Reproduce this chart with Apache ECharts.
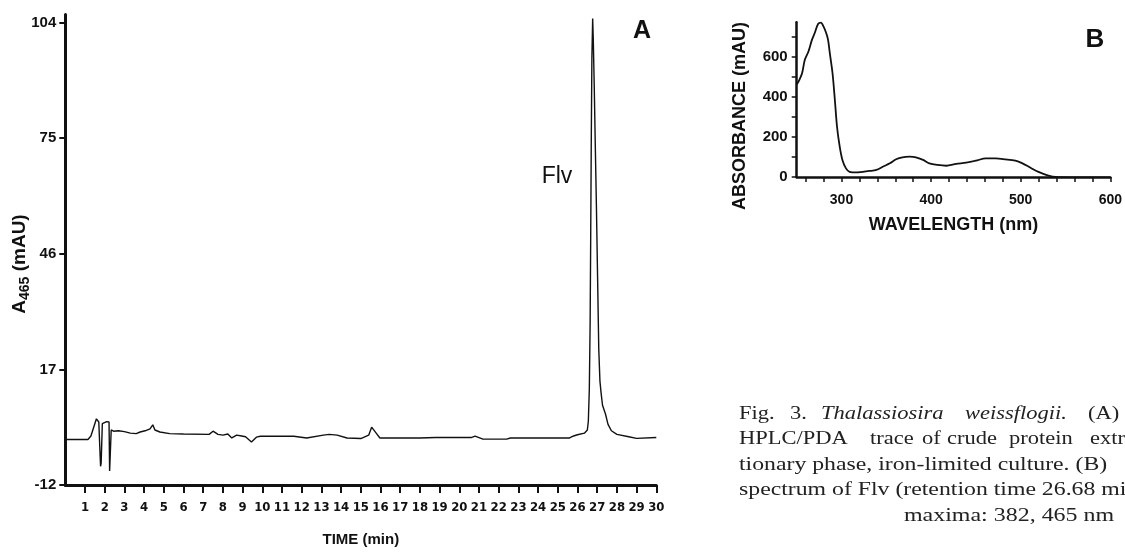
<!DOCTYPE html>
<html>
<head>
<meta charset="utf-8">
<title>Fig. 3 Thalassiosira weissflogii</title>
<script src="https://cdn.jsdelivr.net/npm/echarts@6/dist/echarts.min.js"></script>
<style>
    html, body { margin: 0; padding: 0; background: #fff; }
    #chart { width: 1125px; height: 552px; }
</style>
</head>
<body>
<div id="chart"></div>
<script>
// Panel A: HPLC trace, A465 (mAU) vs time (min)
const timeA = [
    0, 1.15, 1.3, 1.45, 1.58, 1.63, 1.7, 1.76, 1.79, 1.82, 1.88, 1.95, 2.1, 2.22, 2.25, 2.29, 2.33,
    2.45, 2.7, 3.0, 3.3, 3.6, 3.8, 4.05, 4.3, 4.44, 4.55, 4.8, 5.3, 6.0, 7.3, 7.5, 7.75, 8.0,
    8.25, 8.45, 8.7, 8.95, 9.15, 9.45, 9.7, 9.9, 11.6, 12.25, 13.1, 13.4, 13.8, 14.3, 15.0,
    15.4, 15.55, 15.63, 15.8, 15.97, 18.0, 18.8, 20.6, 20.8, 21.2, 22.4, 22.6, 25.6, 25.8,
    26.0, 26.35, 26.5, 26.55, 26.6, 26.64, 26.67, 26.7, 26.73, 26.77, 26.8, 26.85, 26.9,
    26.96, 27.02, 27.08, 27.14, 27.2, 27.27, 27.42, 27.55, 27.72, 28.0, 28.6, 29.0, 30.0
];
const signalA = [
    -0.6, -0.6, 0.3, 2.6, 4.6, 5.0, 3.8, 3.6, -7.3, -6.5, 3.4, 3.8, 3.9, 3.8, -8.5, -8.3, 1.8,
    1.5, 1.6, 1.4, 1.0, 0.9, 1.3, 1.6, 2.1, 3.1, 1.8, 1.3, 0.9, 0.8, 0.7, 1.5, 0.7, 0.5,
    0.8, -0.2, 0.5, 0.3, 0.1, -1.2, 0.0, 0.24, 0.24, -0.2, 0.5, 0.7, 0.5, -0.2, -0.35,
    0.5, 2.5, 2.7, 0.9, -0.2, -0.2, -0.1, -0.1, 0.24, -0.5, -0.5, -0.2, -0.2, 0.3,
    0.6, 1.0, 1.8, 4, 12, 28, 50, 75, 95, 105, 100, 88, 74,
    58, 40, 22, 14, 11, 8, 5.8, 3.2, 1.6, 0.7, 0.1, -0.3, -0.1
];
const timeTicks = [1, 2, 3, 4, 5, 6, 7, 8, 9, 10, 11, 12, 13, 14, 15, 16, 17, 18, 19, 20,
    21, 22, 23, 24, 25, 26, 27, 28, 29, 30];
const signalTicks = [-12, 17, 46, 75, 104];

// Panel B: absorbance spectrum of Flv
const wavelengthB = [
    250, 252, 256, 259, 263, 267, 270, 274, 277, 280, 283, 285, 287, 290, 292.6, 295, 298,
    301, 305, 309, 317, 331, 339, 346, 354, 361, 368, 376, 383, 391, 398, 407, 417, 428,
    439, 450, 461, 472, 483, 494, 502, 509, 517, 524, 531, 539, 557, 580, 600
];
const absorbanceB = [
    460, 474, 516, 582, 623, 682, 715, 762, 768, 748, 715, 682, 615, 516, 383, 250, 151,
    85, 43, 26, 23, 30, 35, 51, 68, 88, 98, 101, 98, 85, 68, 60, 56, 65,
    71, 81, 93, 93, 88, 81, 68, 51, 31, 18, 7, 0, -2, -2, -2
];
const wavelengthTicks = [260, 280, 300, 320, 340, 360, 380, 400, 420, 440, 460, 480, 500,
    520, 540, 560, 580, 600];
const wavelengthLabels = [300, 400, 500, 600];
const absorbanceTicks = [0, 100, 200, 300, 400, 500, 600, 700];
const absorbanceLabels = [0, 200, 400, 600];

const INK = "#111";
const SANS = "'Liberation Sans', Arial, sans-serif";
const NARROW = "'DejaVu Sans Condensed', 'Liberation Sans Narrow', sans-serif";
const SERIF = "'Liberation Serif', 'Times New Roman', serif";

function zip(xs, ys) {
    return xs.map(function (x, i) {
        return [x, ys[i]];
    });
}

// caption text; the print font is wider than Times, so it gets stretched a bit
function captionGraphic() {
    const items = [];
    const plain = { fill: "#222", font: "18px " + SERIF, verticalAlign: "middle" };
    const italic = { fill: "#222", font: "italic 18px " + SERIF, verticalAlign: "middle" };
    // lines 1 and 2 are justified, so words are placed one by one
    const line1 = [["Fig.", 739, plain], ["3.", 790, plain], ["Thalassiosira", 821, italic],
        ["weissflogii.", 965, italic], ["(A)", 1088, plain]];
    const line2 = [["HPLC/PDA", 739, plain], ["trace", 870, plain], ["of", 922, plain],
        ["crude", 947, plain], ["protein", 1009, plain], ["extract", 1090, plain]];
    function put(text, x, y, style, stretch) {
        items.push({ type: "text", x: x, y: y, scaleX: stretch,
            style: Object.assign({ text: text }, style) });
    }
    line1.forEach(function (w) { put(w[0], w[1], 414, w[2], 1.25); });
    line2.forEach(function (w) { put(w[0], w[1], 439, w[2], 1.25); });
    put("tionary phase, iron-limited culture. (B)", 739, 465, plain, 1.32);
    put("spectrum of Flv (retention time 26.68 min); absorption", 739, 490, plain, 1.32);
    put("maxima: 382, 465 nm", 904, 516, plain, 1.33);
    return items;
}

const chart = echarts.init(document.getElementById("chart"), null, { renderer: "canvas" });

const option = {
    backgroundColor: "#fff",
    animation: false,
    grid: [
        { left: 65.3, top: 14.6, width: 591, height: 479.4 },
        { left: 796.7, top: 22.2, width: 315, height: 154.8 }
    ],
    xAxis: [
        {
            gridIndex: 0, type: "value", min: 0, max: 30,
            name: "TIME (min)", nameLocation: "middle", nameGap: 47,
            nameTextStyle: { color: INK, fontFamily: SANS, fontWeight: "bold", fontSize: 15 },
            axisLine: { onZero: false, lineStyle: { color: INK, width: 3 } },
            axisTick: { customValues: timeTicks, length: 8, lineStyle: { color: INK, width: 2 } },
            axisLabel: { customValues: timeTicks, margin: 16, color: INK,
                fontFamily: NARROW, fontWeight: "bold", fontSize: 13 },
            splitLine: { show: false }
        },
        {
            gridIndex: 1, type: "value", min: 250, max: 600,
            name: "WAVELENGTH (nm)", nameLocation: "middle", nameGap: 39,
            nameTextStyle: { color: INK, fontFamily: SANS, fontWeight: "bold", fontSize: 18 },
            axisLine: { onZero: false, lineStyle: { color: INK, width: 2.5 } },
            axisTick: { customValues: wavelengthTicks, length: 5, lineStyle: { color: INK, width: 1.5 } },
            axisLabel: { customValues: wavelengthLabels, margin: 16, color: INK,
                fontFamily: SANS, fontWeight: "bold", fontSize: 14 },
            splitLine: { show: false }
        }
    ],
    yAxis: [
        {
            gridIndex: 0, type: "value", min: -12, max: 106,
            axisLine: { show: true, onZero: false, lineStyle: { color: INK, width: 3 } },
            axisTick: { show: true, customValues: signalTicks, length: 6, lineStyle: { color: INK, width: 2 } },
            axisLabel: { customValues: signalTicks, margin: 9, color: INK,
                fontFamily: SANS, fontWeight: "bold", fontSize: 15 },
            splitLine: { show: false }
        },
        {
            gridIndex: 1, type: "value", min: 0, max: 770,
            axisLine: { show: true, onZero: false, lineStyle: { color: INK, width: 2.5 } },
            axisTick: { show: true, customValues: absorbanceTicks, length: 5, lineStyle: { color: INK, width: 1.5 } },
            axisLabel: { customValues: absorbanceLabels, margin: 9, color: INK,
                fontFamily: SANS, fontWeight: "bold", fontSize: 15 },
            splitLine: { show: false }
        }
    ],
    series: [
        {
            type: "line", xAxisIndex: 0, yAxisIndex: 0,
            data: zip(timeA, signalA),
            showSymbol: false,
            lineStyle: { color: INK, width: 1.4 }
        },
        {
            type: "line", xAxisIndex: 1, yAxisIndex: 1,
            data: zip(wavelengthB, absorbanceB),
            showSymbol: false, smooth: 0.3,
            lineStyle: { color: INK, width: 1.8 }
        }
    ],
    graphic: [
        {
            type: "text", x: 20, y: 264, rotation: Math.PI / 2,
            style: {
                text: "{a|A}{s|465}{a| (mAU)}",
                align: "center", verticalAlign: "middle", fill: INK,
                rich: {
                    a: { fontFamily: SANS, fontWeight: "bold", fontSize: 19, lineHeight: 25, fill: INK },
                    s: { fontFamily: SANS, fontWeight: "bold", fontSize: 14, lineHeight: 25,
                        verticalAlign: "bottom", fill: INK }
                }
            }
        },
        {
            type: "text", x: 740, y: 116, rotation: Math.PI / 2,
            style: { text: "ABSORBANCE (mAU)", align: "center", verticalAlign: "middle",
                fill: INK, font: "bold 18px " + SANS }
        },
        {
            type: "text", x: 557, y: 177,
            style: { text: "Flv", align: "center", verticalAlign: "middle",
                fill: INK, font: "23px " + SANS }
        },
        {
            type: "text", x: 642, y: 31,
            style: { text: "A", align: "center", verticalAlign: "middle",
                fill: INK, font: "bold 25px " + SANS }
        },
        {
            type: "text", x: 1095, y: 40,
            style: { text: "B", align: "center", verticalAlign: "middle",
                fill: INK, font: "bold 26px " + SANS }
        }
    ].concat(captionGraphic())
};

chart.setOption(option);
</script>
</body>
</html>
